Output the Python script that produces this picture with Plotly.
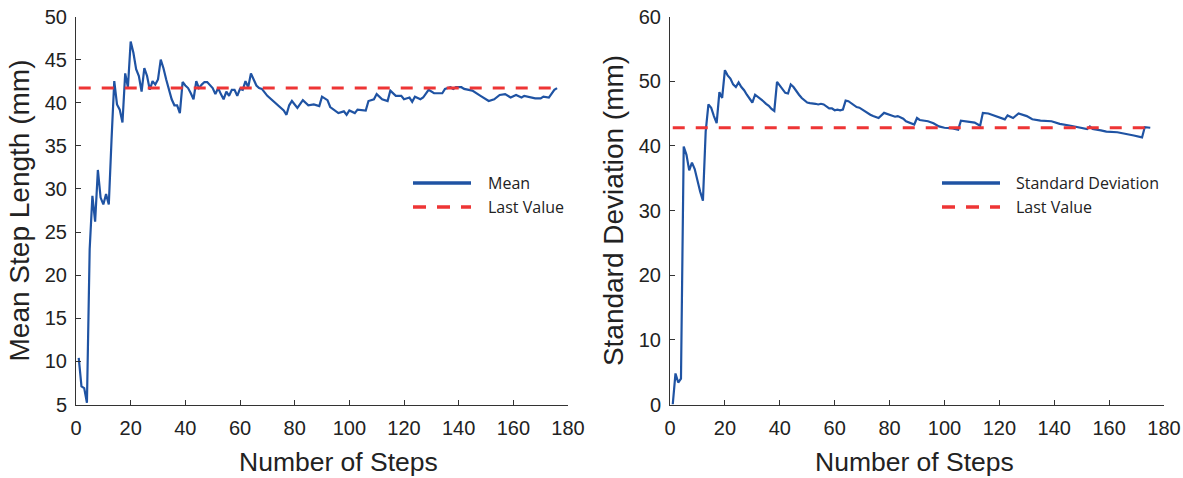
import plotly.graph_objects as go

# ---- data ----
mean_steps = list(range(1, 68)) + [68, 70, 72, 74, 76, 77, 78, 79, 81, 83, 85, 87, 89, 90, 92, 93, 96, 98, 99,
              100, 102, 103, 105, 106, 107, 109, 110, 112, 114, 115, 117, 119, 120, 122, 123, 124,
              126, 127, 129, 131, 134, 135, 137, 138, 139, 141, 142, 145, 148, 151, 153, 155, 157,
              159, 161, 163, 164, 168, 170, 171, 173, 175, 176]
mean_vals = [10.4, 7.1, 6.9, 5.2, 23.0, 29.2, 26.2, 32.2, 29.0, 28.2, 29.4, 28.2, 35.7, 42.5, 39.8,
             39.2, 37.7, 43.4, 41.8, 47.1, 45.8, 43.9, 43.1, 41.3, 44.0, 43.1, 41.5, 42.5, 42.1, 42.7,
             45.0, 44.0, 42.7, 41.5, 40.4, 39.7, 39.7, 38.8, 42.4, 42.0, 41.7, 41.1, 40.4, 42.5, 41.7,
             42.1, 42.4, 42.4, 42.1, 41.7, 41.0, 41.7, 41.0, 40.4, 41.3, 40.8, 41.5, 41.5, 40.8, 41.6,
             41.5, 42.5, 41.8, 43.4, 42.7, 42.0, 41.7,
             41.6, 40.8, 40.2, 39.6, 39.1, 38.6, 39.7, 40.2, 39.4, 40.3, 39.7, 39.8, 39.6, 40.7, 40.3,
             39.5, 38.8, 39.0, 38.6, 39.1, 38.8, 39.2, 39.1, 39.1, 40.2, 40.4, 41.0, 40.4, 40.2, 41.4,
             40.8, 40.8, 40.4, 40.6, 40.1, 40.7, 40.4, 40.6, 41.5, 41.1, 41.1, 41.6, 41.8, 41.6, 41.8,
             41.8, 41.6, 41.4, 40.8, 40.2, 40.4, 40.9, 41.0, 40.6, 40.9, 40.6, 40.8, 40.5, 40.5, 40.7,
             40.6, 41.5, 41.7]

std_steps = list(range(1, 75)) + [76, 78, 80, 82, 83, 85, 86, 89, 90, 91, 94, 96, 98, 100, 103, 105, 106,
             108, 111, 113, 114, 116, 118, 120, 122, 123, 125, 127, 130, 132, 135, 139, 142, 146,
             149, 152, 153, 154, 157, 159, 163, 167, 169, 172, 173, 175]
std_vals = [0.0, 4.8, 3.4, 4.0, 39.9, 38.6, 36.2, 37.4, 36.4, 34.5, 32.9, 31.5, 42.2, 46.4, 45.9,
            44.6, 43.5, 48.3, 47.4, 51.7, 50.9, 50.4, 49.5, 49.1, 49.8, 49.1, 48.6, 47.9, 47.3, 46.7,
            47.9, 47.6, 47.3, 46.9, 46.5, 46.2, 45.7, 45.4, 49.9, 49.3, 48.6, 48.2, 48.1, 49.5, 49.1,
            48.4, 47.9, 47.4, 47.0, 46.7, 46.6, 46.6, 46.5, 46.4, 46.5, 46.4, 46.1, 45.8, 45.8, 45.5,
            45.6, 45.5, 45.6, 47.0, 46.9, 46.6, 46.2, 46.0, 45.9, 45.6, 45.3, 45.1, 44.8, 44.6,
            44.3, 45.1, 44.8, 44.5, 44.6, 44.2, 43.8, 43.3, 44.3, 44.0, 43.8, 43.5, 43.0, 42.8, 42.7,
            42.5, 43.9, 43.8, 43.6, 43.1, 45.1, 45.0, 44.7, 44.3, 44.1, 44.7, 44.3, 45.0, 44.6, 44.1,
            43.9, 43.8, 43.4, 43.1, 42.9, 42.6, 43.0, 42.6, 42.4, 42.2, 42.1, 41.8, 41.6, 41.3, 42.9,
            42.8]

x_ticks = [0, 20, 40, 60, 80, 100, 120, 140, 160, 180]
left_y_ticks = [5, 10, 15, 20, 25, 30, 35, 40, 45, 50]
right_y_ticks = [0, 10, 20, 30, 40, 50, 60]

BLUE = "#1f53a3"
RED = "#ee3535"
W, H = 1183, 478
DASH = "12px,11px"

fig = go.Figure()
fig.add_trace(go.Scatter(x=mean_steps, y=mean_vals, mode="lines", name="Mean",
                         line=dict(color=BLUE, width=2.2), xaxis="x", yaxis="y", showlegend=False))
fig.add_trace(go.Scatter(x=[mean_steps[0], mean_steps[-1]], y=[mean_vals[-1]] * 2, mode="lines",
                         name="Last Value", line=dict(color=RED, width=3, dash=DASH),
                         xaxis="x", yaxis="y", showlegend=False))
fig.add_trace(go.Scatter(x=std_steps, y=std_vals, mode="lines", name="Standard Deviation",
                         line=dict(color=BLUE, width=2.2), xaxis="x2", yaxis="y2", showlegend=False))
fig.add_trace(go.Scatter(x=[std_steps[0], std_steps[-1]], y=[std_vals[-1]] * 2, mode="lines",
                         name="Last Value", line=dict(color=RED, width=3, dash=DASH),
                         xaxis="x2", yaxis="y2", showlegend=False))

FONT = "Liberation Sans, Arial"
axis_common = dict(showline=True, linecolor="#333", linewidth=1, ticks="inside", ticklen=5,
                   tickcolor="#333", showgrid=False, zeroline=False, automargin=False,
                   tickfont=dict(family=FONT, size=20, color="#222"))
xaxis_extra = dict(ticklabelstandoff=5)
yaxis_extra = dict(ticklabelstandoff=4,
                   title_font=dict(family=FONT, size=28, color="#222"))

ydom = [1 - 404.5 / H, 1 - 16.5 / H]
fig.update_layout(
    width=W, height=H, margin=dict(l=0, r=0, t=0, b=0),
    paper_bgcolor="white", plot_bgcolor="white",
    xaxis=dict(domain=[76 / W, 568 / W], range=[0, 180], tickvals=x_ticks, anchor="y",
               **axis_common, **xaxis_extra),
    yaxis=dict(domain=ydom, range=[5, 50], tickvals=left_y_ticks,
               title=dict(text="Mean Step Length (mm)", standoff=6), anchor="x",
               **axis_common, **yaxis_extra),
    xaxis2=dict(domain=[670 / W, 1164 / W], range=[0, 180], tickvals=x_ticks, anchor="y2",
                **axis_common, **xaxis_extra),
    yaxis2=dict(domain=ydom, range=[0, 60], tickvals=right_y_ticks,
                title=dict(text="Standard Deviation (mm)", standoff=6), anchor="x2",
                **axis_common, **yaxis_extra),
)

# x-axis titles placed as in the reference
for cx in (338.5, 914):
    fig.add_annotation(xref="paper", yref="paper", x=cx / W, y=1 - 462 / H, text="Number of Steps",
                       showarrow=False, xanchor="center", yanchor="middle",
                       font=dict(family=FONT, size=26.5, color="#222"))

# manual legends (long line samples as in the reference)
legend_font = dict(family="Open Sans, Noto Sans, Arial", size=16, color="#222")
legends = [
    (413, 471, 486, ["Mean", "Last Value"]),
    (942, 1000, 1014, ["Standard Deviation", "Last Value"]),
]
for x0, x1, tx, labels in legends:
    for i, (lab, col, dash) in enumerate(zip(labels, [BLUE, RED], ["solid", "13px,11px"])):
        yp = 183 + 24 * i
        fig.add_shape(type="line", xref="paper", yref="paper", x0=x0 / W, x1=x1 / W,
                      y0=1 - yp / H, y1=1 - yp / H,
                      line=dict(color=col, width=3.5, dash=dash))
        fig.add_annotation(xref="paper", yref="paper", x=tx / W, y=1 - yp / H, text=lab,
                           showarrow=False, xanchor="left", yanchor="middle", font=legend_font)

fig.write_html("out.html")
